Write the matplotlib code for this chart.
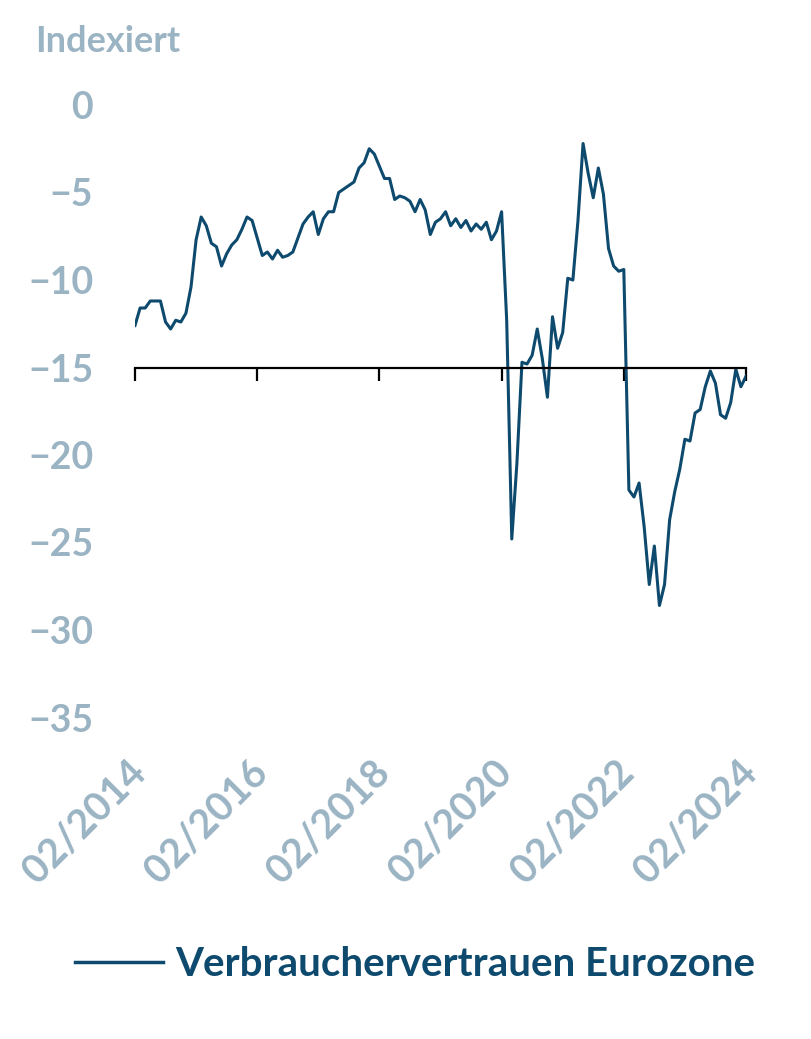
import matplotlib
matplotlib.use("Agg")
import matplotlib.pyplot as plt
import matplotlib.transforms as mtransforms
import numpy as np

# Verbrauchervertrauen Eurozone, monatlich 02/2014 - 02/2024
werte = [
    -12.6, -11.6, -11.6, -11.2, -11.2, -11.2, -12.4, -12.8, -12.3, -12.4,
    -11.9, -10.4, -7.7, -6.4, -6.9, -7.9, -8.1, -9.2, -8.5, -8.0,
    -7.7, -7.1, -6.4, -6.6, -7.6, -8.6, -8.4, -8.8, -8.3, -8.7,
    -8.6, -8.4, -7.6, -6.8, -6.4, -6.1, -7.4, -6.5, -6.1, -6.1,
    -5.0, -4.8, -4.6, -4.4, -3.6, -3.3, -2.5, -2.8, -3.5, -4.2,
    -4.2, -5.4, -5.2, -5.3, -5.5, -6.1, -5.4, -6.0, -7.4, -6.7,
    -6.5, -6.1, -6.9, -6.5, -7.0, -6.6, -7.2, -6.8, -7.1, -6.7,
    -7.7, -7.2, -6.1, -12.3, -24.8, -20.5, -14.7, -14.8, -14.3, -12.8,
    -14.5, -16.7, -12.1, -13.9, -13.0, -9.9, -10.0, -6.6, -2.2, -3.9,
    -5.3, -3.6, -5.1, -8.2, -9.2, -9.5, -9.4, -22.0, -22.4, -21.6,
    -24.1, -27.4, -25.2, -28.6, -27.4, -23.7, -22.1, -20.8, -19.1, -19.2,
    -17.6, -17.4, -16.1, -15.2, -15.9, -17.7, -17.9, -17.0, -15.1, -16.1,
    -15.5,
]
monate = np.arange(len(werte))
tick_pos = [0, 24, 48, 72, 96, 120]
tick_labels = ["02/2014", "02/2016", "02/2018", "02/2020", "02/2022", "02/2024"]
y_ticks = [0, -5, -10, -15, -20, -25, -30, -35]

linie = "#0E4A6E"
grau = "#9BB4C4"
schrift = "Lato"

fig = plt.figure(figsize=(8.11, 10.39), dpi=100)
ax = fig.add_axes([135 / 811, 1 - 752.5 / 1039, (746 - 135) / 811, (752.5 - 87.5) / 1039])

ax.plot(monate, werte, color=linie, linewidth=2.2, label="Verbrauchervertrauen Eurozone")

ax.set_xlim(0, 120)
ax.set_ylim(-37, 1)

for s in ["top", "right", "left"]:
    ax.spines[s].set_visible(False)
ax.spines["bottom"].set_position(("data", -15))
ax.spines["bottom"].set_linewidth(1.6)
ax.spines["bottom"].set_color("black")

ax.set_xticks(tick_pos)
ax.tick_params(axis="x", direction="out", length=9.5, width=1.6, color="black", labelbottom=False)

ax.set_yticks(y_ticks)
ax.set_yticklabels(["0"] + ["\u2212" + str(abs(v)) for v in y_ticks[1:]])
ax.tick_params(axis="y", length=0, pad=30, labelsize=27, labelcolor=grau)
for lab in ax.get_yticklabels():
    lab.set_fontfamily(schrift)
    lab.set_fontweight("bold")

# rotierte Datumsbeschriftungen unter der Achse
trans = mtransforms.blended_transform_factory(ax.transData, ax.transAxes)
for x, t in zip(tick_pos, tick_labels):
    ax.annotate(t, xy=(x, 0), xycoords=trans, xytext=(-6, -1), textcoords="offset points",
                rotation=45, ha="right", va="top", rotation_mode="anchor",
                fontsize=28.5, fontweight="bold", color=grau, fontfamily=schrift,
                annotation_clip=False)

fig.text(35 / 811, 1 - 42 / 1039, "Indexiert", fontsize=26, fontweight="bold",
         color=grau, fontfamily=schrift, ha="left", va="center")

leg = fig.legend(loc="center", bbox_to_anchor=(415 / 811, 1 - 965 / 1039), frameon=False,
                 handlelength=2.2, handletextpad=0.3,
                 prop={"family": schrift, "weight": "bold", "size": 29})
for txt in leg.get_texts():
    txt.set_color(linie)
for h in leg.get_lines():
    h.set_linewidth(2.5)

fig.savefig("out.png", dpi=100)
